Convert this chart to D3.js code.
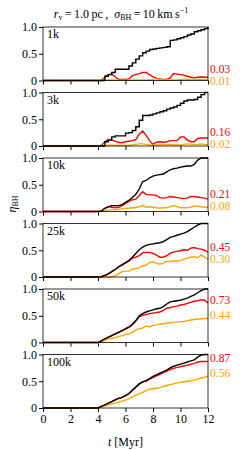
<!DOCTYPE html>
<html>
<head>
<meta charset="utf-8">
<script src="https://cdn.jsdelivr.net/npm/d3@7/dist/d3.min.js"></script>
<style>
  body { margin: 0; background: #fff; }
  svg { font-family: "Liberation Serif", "DejaVu Serif", serif; }
</style>
</head>
<body>
<div id="chart"></div>
<script>
// shared time grid (Myr)
const times = [0, 4, 4.25, 4.5, 4.75, 5, 5.25, 5.5, 5.75, 6, 6.25, 6.5, 6.75, 7, 7.25, 7.5, 7.75,
  8, 8.25, 8.5, 8.75, 9, 9.25, 9.5, 9.75, 10, 10.25, 10.5, 10.75, 11, 11.25, 11.5, 11.75, 12];

const panelNames = ["1k", "3k", "10k", "25k", "50k", "100k"];

// black: all BHs, red and orange: retained fractions
const blackSeries = [
  [0, 0, 0, 0.08, 0.11, 0.15, 0.21, 0.21, 0.21, 0.21, 0.27, 0.33, 0.40, 0.46, 0.52, 0.55, 0.58, 0.59, 0.60, 0.61, 0.62, 0.63, 0.75, 0.76, 0.78, 0.80, 0.82, 0.85, 0.87, 0.91, 0.93, 0.95, 0.97, 1.0],
  [0, 0, 0, 0.08, 0.11, 0.17, 0.19, 0.19, 0.19, 0.24, 0.25, 0.29, 0.36, 0.48, 0.57, 0.57, 0.58, 0.60, 0.62, 0.64, 0.66, 0.69, 0.71, 0.73, 0.76, 0.80, 0.84, 0.86, 0.86, 0.87, 0.91, 0.96, 1.0, 1.0],
  [0, 0, 0.01, 0.06, 0.09, 0.11, 0.11, 0.11, 0.13, 0.17, 0.21, 0.26, 0.32, 0.42, 0.56, 0.58, 0.63, 0.66, 0.68, 0.69, 0.70, 0.74, 0.78, 0.80, 0.81, 0.83, 0.84, 0.85, 0.85, 0.88, 0.96, 1.0, 1.0, 1.0],
  [0, 0, 0.005, 0.03, 0.06, 0.10, 0.14, 0.19, 0.23, 0.27, 0.31, 0.37, 0.44, 0.51, 0.56, 0.59, 0.61, 0.62, 0.63, 0.64, 0.66, 0.70, 0.74, 0.76, 0.78, 0.80, 0.82, 0.85, 0.89, 0.93, 0.97, 1.0, 1.0, 1.0],
  [0, 0, 0.03, 0.07, 0.10, 0.13, 0.16, 0.19, 0.22, 0.26, 0.29, 0.34, 0.41, 0.50, 0.54, 0.57, 0.59, 0.61, 0.63, 0.64, 0.67, 0.72, 0.76, 0.77, 0.78, 0.79, 0.81, 0.83, 0.86, 0.89, 0.93, 0.97, 1.0, 1.0],
  [0, 0, 0.03, 0.06, 0.09, 0.12, 0.15, 0.18, 0.20, 0.23, 0.27, 0.33, 0.39, 0.45, 0.49, 0.51, 0.55, 0.59, 0.62, 0.65, 0.68, 0.71, 0.75, 0.78, 0.80, 0.82, 0.84, 0.86, 0.88, 0.90, 0.95, 0.99, 1.0, 1.0]
];

const redSeries = [
  [0, 0, 0, 0.06, 0.11, 0.12, 0.07, 0.02, 0.02, 0.02, 0.03, 0.09, 0.11, 0.13, 0.15, 0.15, 0.11, 0.07, 0.04, 0.03, 0.02, 0.02, 0.05, 0.13, 0.12, 0.11, 0.10, 0.08, 0.06, 0.05, 0.06, 0.07, 0.06, 0.06],
  [0, 0, 0.01, 0.08, 0.12, 0.11, 0.09, 0.07, 0.06, 0.08, 0.09, 0.10, 0.12, 0.22, 0.28, 0.20, 0.10, 0.03, 0.07, 0.08, 0.07, 0.08, 0.10, 0.10, 0.10, 0.17, 0.17, 0.11, 0.08, 0.08, 0.14, 0.15, 0.15, 0.15],
  [0, 0, 0.01, 0.06, 0.09, 0.08, 0.07, 0.08, 0.11, 0.15, 0.19, 0.22, 0.23, 0.30, 0.37, 0.32, 0.31, 0.31, 0.30, 0.26, 0.25, 0.26, 0.28, 0.27, 0.26, 0.25, 0.24, 0.25, 0.28, 0.28, 0.27, 0.26, 0.25, 0.23],
  [0, 0, 0.005, 0.03, 0.06, 0.10, 0.14, 0.19, 0.22, 0.26, 0.30, 0.35, 0.37, 0.40, 0.45, 0.46, 0.46, 0.44, 0.41, 0.37, 0.37, 0.40, 0.44, 0.47, 0.48, 0.49, 0.51, 0.50, 0.54, 0.55, 0.53, 0.52, 0.50, 0.46],
  [0, 0, 0.03, 0.07, 0.10, 0.13, 0.16, 0.19, 0.22, 0.25, 0.28, 0.33, 0.40, 0.48, 0.51, 0.52, 0.54, 0.55, 0.56, 0.57, 0.60, 0.64, 0.65, 0.67, 0.68, 0.70, 0.71, 0.73, 0.75, 0.77, 0.78, 0.80, 0.79, 0.74],
  [0, 0, 0.03, 0.06, 0.09, 0.12, 0.15, 0.18, 0.20, 0.23, 0.27, 0.33, 0.39, 0.45, 0.49, 0.50, 0.54, 0.57, 0.60, 0.63, 0.66, 0.69, 0.72, 0.74, 0.76, 0.77, 0.79, 0.80, 0.82, 0.83, 0.86, 0.87, 0.87, 0.87]
];

const orangeSeries = [
  [0, 0, 0, 0.005, 0.01, 0.01, 0.005, 0.005, 0.005, 0.005, 0.01, 0.01, 0.01, 0.01, 0.01, 0.01, 0.01, 0.02, 0.03, 0.02, 0.01, 0.01, 0.01, 0.01, 0.01, 0.02, 0.02, 0.02, 0.02, 0.02, 0.02, 0.02, 0.02, 0.02],
  [0, 0, 0, 0.01, 0.01, 0.02, 0.01, 0.01, 0.01, 0.01, 0.01, 0.02, 0.03, 0.04, 0.04, 0.03, 0.02, 0.01, 0.02, 0.02, 0.03, 0.02, 0.03, 0.02, 0.02, 0.02, 0.03, 0.04, 0.03, 0.03, 0.03, 0.04, 0.03, 0.02],
  [0, 0, 0, 0.01, 0.03, 0.03, 0.03, 0.04, 0.05, 0.06, 0.06, 0.07, 0.07, 0.09, 0.11, 0.08, 0.09, 0.08, 0.07, 0.06, 0.07, 0.07, 0.09, 0.11, 0.09, 0.07, 0.07, 0.07, 0.08, 0.10, 0.10, 0.09, 0.08, 0.08],
  [0, 0, 0, 0, 0, 0.005, 0.02, 0.06, 0.10, 0.11, 0.11, 0.15, 0.16, 0.17, 0.21, 0.22, 0.27, 0.28, 0.26, 0.24, 0.26, 0.29, 0.29, 0.30, 0.30, 0.31, 0.33, 0.35, 0.37, 0.38, 0.36, 0.41, 0.37, 0.33],
  [0, 0, 0.01, 0.04, 0.07, 0.08, 0.09, 0.11, 0.13, 0.15, 0.16, 0.19, 0.23, 0.26, 0.27, 0.31, 0.29, 0.32, 0.33, 0.34, 0.35, 0.36, 0.37, 0.38, 0.38, 0.39, 0.39, 0.41, 0.42, 0.43, 0.44, 0.44, 0.45, 0.45],
  [0, 0, 0.02, 0.04, 0.06, 0.08, 0.09, 0.11, 0.13, 0.15, 0.17, 0.21, 0.24, 0.27, 0.29, 0.33, 0.35, 0.36, 0.37, 0.38, 0.40, 0.42, 0.44, 0.45, 0.47, 0.48, 0.49, 0.50, 0.51, 0.52, 0.54, 0.56, 0.57, 0.60]
];

const redLabels = ["0.03", "0.16", "0.21", "0.45", "0.73", "0.87"];
const orangeLabels = ["0.01", "0.02", "0.08", "0.30", "0.44", "0.56"];

const xTicks = [0, 2, 4, 6, 8, 10, 12];
const yTicks = [0, 0.5, 1];
const yTickLabels = ["0", "0.5", "1.0"];

const margin = { left: 43, right: 32, top: 27 };
const width = 240 - margin.left - margin.right;
const panelH = 53.5;
const panelStep = 65.5;

const svg = d3.select("#chart")
  .append("svg")
  .attr("width", 240)
  .attr("height", 450);

const xScale = d3.scaleLinear().domain([0, 12]).range([0, width]);

const colors = { black: "#000000", red: "#ff0000", orange: "#ffa500" };

panelNames.forEach((name, i) => {
  const g = svg.append("g")
    .attr("transform", `translate(${margin.left}, ${margin.top + i * panelStep})`);

  const yScale = d3.scaleLinear().domain([0, 1]).range([panelH, 0]);

  const isLast = i === panelNames.length - 1;

  g.append("g")
    .attr("transform", `translate(0, ${panelH})`)
    .call(d3.axisBottom(xScale).tickValues(xTicks).tickSize(4).tickPadding(2)
      .tickFormat((d) => isLast ? d : ""))
    .call((a) => a.select(".domain").remove())
    .call((a) => a.selectAll("text").attr("font-size", 12).attr("font-family", "Liberation Serif"));

  g.append("g")
    .call(d3.axisLeft(yScale).tickValues(yTicks).tickSize(4).tickPadding(2)
      .tickFormat((d, j) => yTickLabels[j]))
    .call((a) => a.select(".domain").remove())
    .call((a) => a.selectAll("text").attr("font-size", 12).attr("font-family", "Liberation Serif"));

  const line = d3.line()
    .x((d, j) => xScale(times[j]))
    .y((d) => yScale(d));

  g.append("path")
    .datum(redSeries[i])
    .attr("d", line)
    .attr("fill", "none")
    .attr("stroke", colors.red)
    .attr("stroke-width", 1.4);

  g.append("path")
    .datum(orangeSeries[i])
    .attr("d", line)
    .attr("fill", "none")
    .attr("stroke", colors.orange)
    .attr("stroke-width", 1.4);

  // the small clusters show discrete steps
  const blackLine = d3.line()
    .x((d, j) => xScale(times[j]))
    .y((d) => yScale(d))
    .curve(i < 2 ? d3.curveStepAfter : d3.curveLinear);

  g.append("path")
    .datum(blackSeries[i])
    .attr("d", blackLine)
    .attr("fill", "none")
    .attr("stroke", colors.black)
    .attr("stroke-width", 1.4);

  g.append("rect")
    .attr("width", width)
    .attr("height", panelH)
    .attr("fill", "none")
    .attr("stroke", "#000")
    .attr("stroke-width", 0.8);

  g.append("text")
    .attr("x", 4)
    .attr("y", 11)
    .attr("font-size", 12)
    .text(name);

  // end value labels, pushed apart when they crowd
  const redEnd = redSeries[i][redSeries[i].length - 1];
  const orangeEnd = orangeSeries[i][orangeSeries[i].length - 1];
  let redY = yScale(redEnd) + 1;
  let orangeY = yScale(orangeEnd) + 1;
  const minGap = 12;
  if (orangeY - redY < minGap) {
    const push = (minGap - (orangeY - redY)) / 2;
    redY -= push;
    orangeY += push;
  }
  const maxY = panelH + 4;
  if (orangeY > maxY) {
    redY -= orangeY - maxY;
    orangeY = maxY;
  }

  g.append("text")
    .attr("x", width + 2)
    .attr("y", redY)
    .attr("font-size", 11.5)
    .attr("fill", colors.red)
    .text(redLabels[i]);

  g.append("text")
    .attr("x", width + 2)
    .attr("y", orangeY)
    .attr("font-size", 11.5)
    .attr("fill", colors.orange)
    .text(orangeLabels[i]);
});

// title
const title = svg.append("text")
  .attr("x", 121)
  .attr("y", 18)
  .attr("text-anchor", "middle")
  .attr("font-size", 12);
title.append("tspan").attr("font-style", "italic").text("r");
title.append("tspan").attr("font-size", 8).attr("dy", 2).text("v");
title.append("tspan").attr("dy", -2).text("\u2009=\u20091.0\u2009pc\u2009,\u2002");
title.append("tspan").attr("font-style", "italic").text("σ");
title.append("tspan").attr("font-size", 8).attr("dy", 2).text("BH");
title.append("tspan").attr("dy", -2).text("\u2009=\u200910\u2009km\u2009s");
title.append("tspan").attr("font-size", 8).attr("dy", -5).text("\u22121");

// y label
const ylab = svg.append("text")
  .attr("transform", "translate(16, 204) rotate(-90)")
  .attr("text-anchor", "middle")
  .attr("font-size", 12);
ylab.append("tspan").attr("font-style", "italic").text("η");
ylab.append("tspan").attr("font-size", 8).attr("dy", 2).text("BH");

// x label
const xlab = svg.append("text")
  .attr("x", margin.left + width / 2)
  .attr("y", 446)
  .attr("text-anchor", "middle")
  .attr("font-size", 12);
xlab.append("tspan").attr("font-style", "italic").text("t");
xlab.append("tspan").text(" [Myr]");
</script>
</body>
</html>
